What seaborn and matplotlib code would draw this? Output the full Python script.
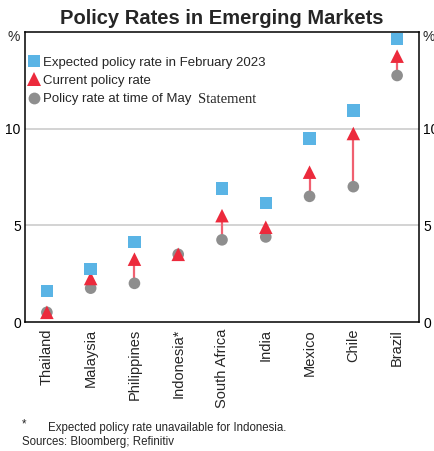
import matplotlib
matplotlib.use("Agg")
import matplotlib.pyplot as plt
import seaborn as sns
import pandas as pd
import numpy as np
from matplotlib.lines import Line2D

countries = ["Thailand", "Malaysia", "Philippines", "Indonesia*", "South Africa",
             "India", "Mexico", "Chile", "Brazil"]
expected_feb2023 = [1.6, 2.75, 4.15, np.nan, 6.9, 6.15, 9.5, 10.95, 14.65]
current_rate = [0.5, 2.25, 3.25, 3.5, 5.5, 4.9, 7.75, 9.75, 13.75]
may_statement_rate = [0.5, 1.75, 2.0, 3.5, 4.25, 4.4, 6.5, 7.0, 12.75]
y_ticks = [0, 5, 10]

df = pd.DataFrame({"country": countries, "expected": expected_feb2023,
                   "current": current_rate, "may": may_statement_rate})

sns.set_theme(style="white")
plt.rcParams["font.family"] = ["Liberation Sans", "DejaVu Sans"]

BLUE = "#5AB4E5"
RED = "#EC2A3C"
LINE = "#F06070"
GREY = "#8E8E8E"

fig = plt.figure(figsize=(4.34, 4.51), dpi=100)
ax = fig.add_axes([25/434, 1 - 322/451, 394/434, 290/451])

xpos = np.arange(len(countries))
sns.scatterplot(data=df, x="country", y="may", ax=ax, marker="o", s=70,
                color=GREY, edgecolor="none", zorder=3, legend=False)
ax.vlines(xpos, df["may"], df["current"] - 0.3, color=LINE, lw=1.6, zorder=2)
sns.scatterplot(data=df, x="country", y="current", ax=ax, marker="^", s=95,
                color=RED, edgecolor="none", zorder=4, legend=False)
sns.scatterplot(data=df, x="country", y="expected", ax=ax, marker="s", s=80,
                color=BLUE, edgecolor="none", zorder=5, legend=False)

ax.set_xlim(-0.5, len(countries) - 0.5)
ax.set_ylim(0, 15)
ax.set_xlabel("")
ax.set_ylabel("")

# y axis
ax.set_yticks(y_ticks)
ax.set_yticklabels([str(t) for t in y_ticks])
ax.tick_params(axis="y", which="both", length=0, labelsize=10, pad=3,
               labelright=True, labelleft=True, colors="black")
for t in y_ticks[1:]:
    ax.axhline(t, color="#D3D3D3", lw=1.4, zorder=0)
ax.text(-0.012, 0.982, "%", transform=ax.transAxes, ha="right", va="center", fontsize=10)
ax.text(1.008, 0.982, "%", transform=ax.transAxes, ha="left", va="center", fontsize=10)

# x axis
ax.set_xticks(xpos)
ax.set_xticklabels(countries, rotation=90, fontsize=10.5, va="top", ha="center")
ax.tick_params(axis="x", which="major", length=0, pad=5)
ax.set_xticks(np.arange(0.5, len(countries) - 0.5, 1), minor=True)
ax.tick_params(axis="x", which="minor", direction="in", length=5, width=1, color="black")

for s in ax.spines.values():
    s.set_visible(True)
    s.set_color("black")
    s.set_linewidth(1.1)

# title
fig.text(0.511, 1 - 18/451, "Policy Rates in Emerging Markets", ha="center", va="center",
         fontsize=14.5, fontweight="bold")

# legend
handles = [
    Line2D([], [], marker="s", ls="none", color=BLUE, markersize=9, markeredgewidth=0),
    Line2D([], [], marker="^", ls="none", color=RED, markersize=10, markeredgewidth=0),
    Line2D([], [], marker="o", ls="none", color=GREY, markersize=8.5, markeredgewidth=0),
]
labels = ["Expected policy rate in February 2023", "Current policy rate",
          "Policy rate at time of May"]
leg = ax.legend(handles, labels, loc="upper left", bbox_to_anchor=(0.01, 0.915),
                frameon=False, fontsize=9.5, handlelength=0.8, handletextpad=0.25,
                labelspacing=0.45, borderaxespad=0, borderpad=0)
fig.canvas.draw()
txt = leg.get_texts()[2]
bb = txt.get_window_extent()
fx = bb.x1 / fig.bbox.width
fy = (bb.y0 + bb.y1) / 2 / fig.bbox.height
fig.text(fx + 0.016, fy, "Statement", ha="left", va="center", fontsize=10.5,
         family="Liberation Serif")

# footnotes
fig.text(22/434, 1 - 424/451, "*", fontsize=8.3, ha="left", va="center")
fig.text(48/434, 1 - 428/451, "Expected policy rate unavailable for Indonesia.",
         fontsize=8.3, ha="left", va="center")
fig.text(22/434, 1 - 442/451, "Sources: Bloomberg; Refinitiv", fontsize=8.3,
         ha="left", va="center")

fig.savefig("out.png", dpi=100)
